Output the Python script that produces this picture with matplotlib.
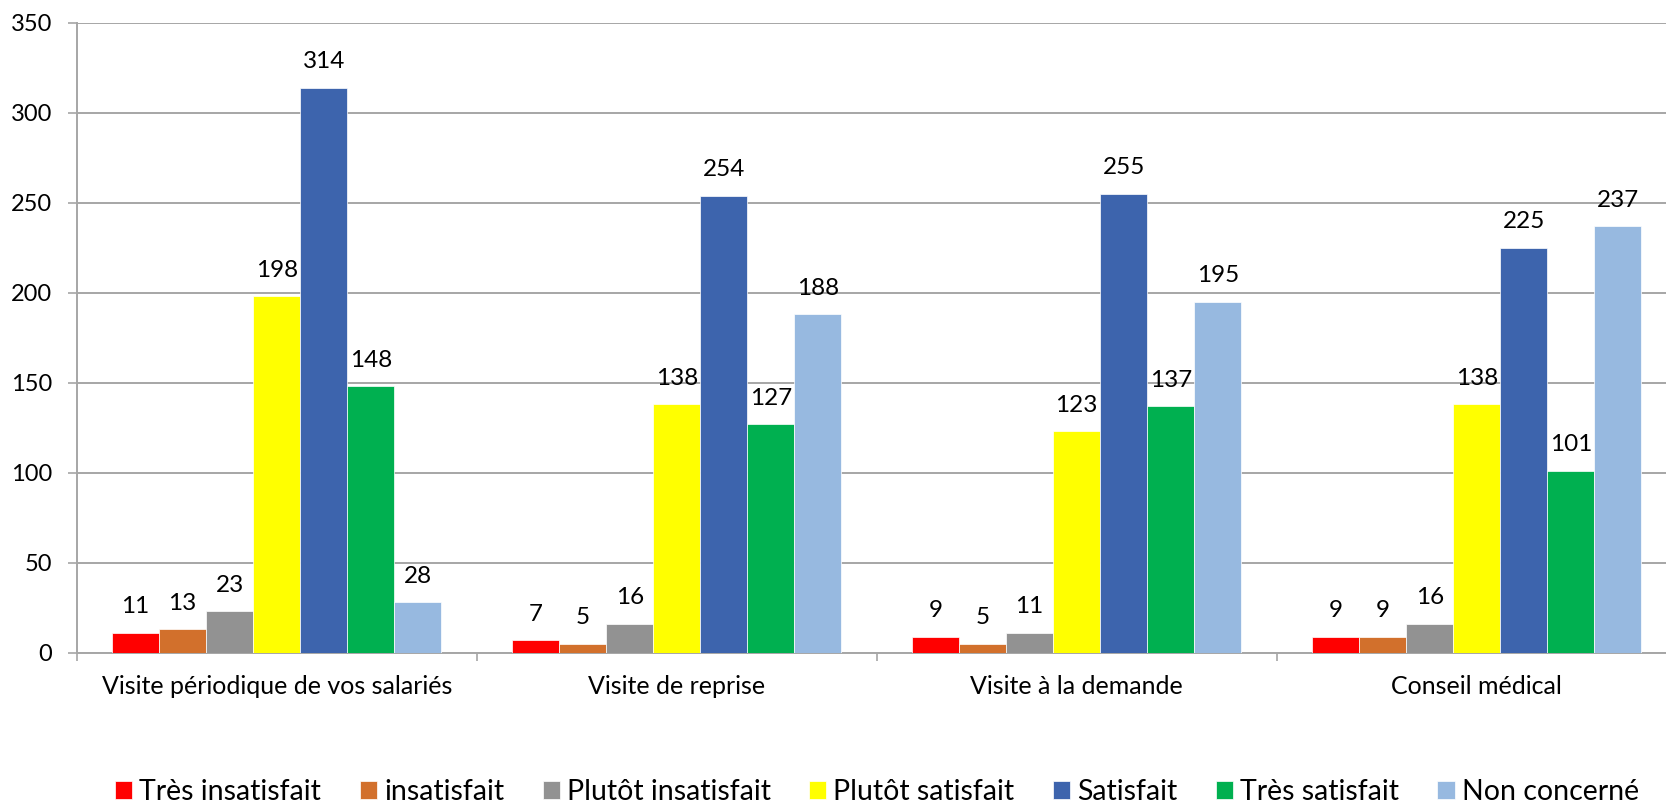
import matplotlib.pyplot as plt
import numpy as np

plt.rcParams['font.family'] = ['Lato', 'DejaVu Sans']

# Données
categories = ['Visite périodique de vos salariés', 'Visite de reprise',
              'Visite à la demande', 'Conseil médical']
series = ['Très insatisfait', 'insatisfait', 'Plutôt insatisfait', 'Plutôt satisfait',
          'Satisfait', 'Très satisfait', 'Non concerné']
tres_insatisfait = [11, 7, 9, 9]
insatisfait = [13, 5, 5, 9]
plutot_insatisfait = [23, 16, 11, 16]
plutot_satisfait = [198, 138, 123, 138]
satisfait = [314, 254, 255, 225]
tres_satisfait = [148, 127, 137, 101]
non_concerne = [28, 188, 195, 237]
yticks = [0, 50, 100, 150, 200, 250, 300, 350]

valeurs = [tres_insatisfait, insatisfait, plutot_insatisfait, plutot_satisfait,
           satisfait, tres_satisfait, non_concerne]
couleurs = ['#FF0000', '#D2702C', '#929292', '#FFFF00', '#3D64AD', '#00B050', '#97B9E0']

W, H = 1666, 802
fig = plt.figure(figsize=(W / 100, H / 100), dpi=100)
ax = fig.add_axes([76.7 / W, (H - 652.7) / H, 1600 / W, 630 / H])

n = len(series)
largeur = 1 / (n + 1.5)
x = np.arange(len(categories))
gris = '#A6A6A6'

for i in range(n):
    pos = x + (i - (n - 1) / 2) * largeur
    barres = ax.bar(pos, valeurs[i], largeur, color=couleurs[i], label=series[i],
                    edgecolor='white', linewidth=0.5, zorder=3)
    for b, v in zip(barres, valeurs[i]):
        ax.annotate(str(v), (b.get_x() + b.get_width() / 2, v), xytext=(0, 14),
                    textcoords='offset points', ha='center', va='baseline',
                    fontsize=17.5, color='black', zorder=4)

ax.set_xlim(-0.5, len(categories) - 0.5)
ax.set_ylim(0, 350)
ax.set_yticks(yticks)
ax.yaxis.grid(True, color=gris, linewidth=1.4, zorder=0)
ax.tick_params(axis='y', length=6.5, width=1.2, color=gris, labelsize=17, pad=11)

# ticks de séparation des groupes, libellés au centre
ax.set_xticks(np.arange(len(categories) + 1) - 0.5)
ax.set_xticklabels([])
ax.set_xticks(x, minor=True)
ax.set_xticklabels(categories, minor=True, fontsize=18)
ax.tick_params(axis='x', which='major', length=6, width=1.2, color=gris)
ax.tick_params(axis='x', which='minor', length=0, pad=16)

for s in ['top', 'right']:
    ax.spines[s].set_visible(False)
for s in ['left', 'bottom']:
    ax.spines[s].set_color(gris)
    ax.spines[s].set_linewidth(1.4)

fig.legend(loc='center', bbox_to_anchor=(877 / W, 1 - 792 / H), ncol=n, frameon=False,
           fontsize=20.5, handlelength=0.6, handleheight=0.6, handletextpad=0.25,
           columnspacing=1.35, borderpad=0)

fig.savefig('out.png', dpi=100)
